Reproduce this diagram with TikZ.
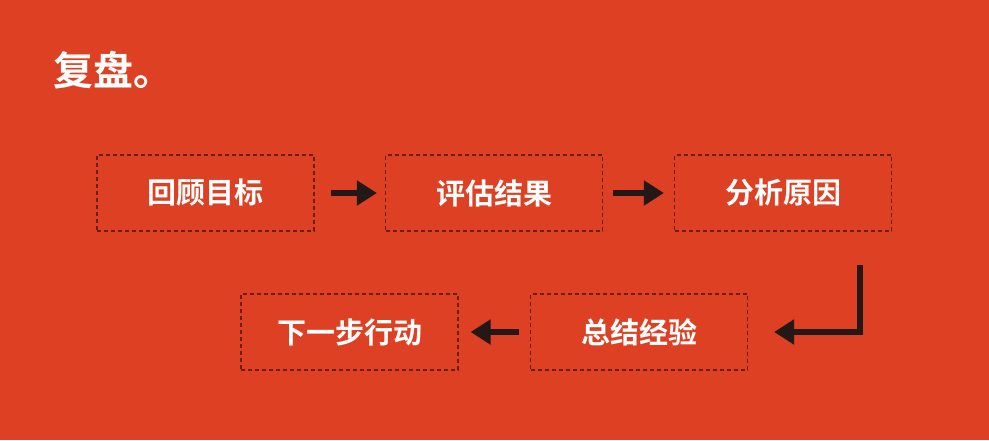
\documentclass[tikz,border=0pt]{standalone}
\usepackage{fontspec}
\newfontfamily\cjk{Noto Sans CJK SC Bold}
\usetikzlibrary{arrows.meta, positioning}
\definecolor{bgred}{HTML}{DD4023}
\definecolor{frame}{HTML}{6A1E12}
\definecolor{arrowc}{HTML}{231815}
\begin{document}
\begin{tikzpicture}[x=1pt, y=-1pt, >={Triangle[length=20pt,width=24pt]}]

  % --- FUNDO ---
  \fill[bgred] (0,0) rectangle (989,440);
  \useasboundingbox (0,0) rectangle (989,440);

  \tikzset{
    stepbox/.style={draw=frame, line width=1.2pt, dash pattern=on 4pt off 3pt,
      minimum width=217pt, minimum height=76pt, inner sep=0pt,
      text=white, font=\cjk\fontsize{29}{31}\selectfont},
    flow/.style={->, draw=arrowc, line width=6pt}
  }

  % --- TÍTULO ---
  \node[anchor=west, text=white, font=\cjk\fontsize{40}{44}\selectfont] (title) at (50,70) {复盘。};

  % --- ETAPAS ---
  \node[stepbox] (goal)   at (205.5,193) {回顾目标};
  \node[stepbox] (result) at (494,193)   {评估结果};
  \node[stepbox] (cause)  at (783,193)   {分析原因};
  \node[stepbox] (next)   at (349.5,332) {下一步行动};
  \node[stepbox] (sum)    at (639,332)   {总结经验};

  \coordinate (bend) at (860,265);

  % --- SETAS ---
  \draw[flow, shorten <=16pt, shorten >=8pt] (goal) -- (result);
  \draw[flow, shorten <=10pt, shorten >=10pt] (result) -- (cause);
  \draw[flow, shorten >=26pt] (bend) |- (sum.east);
  \draw[flow, shorten <=11pt, shorten >=12pt] (sum) -- (next);

\end{tikzpicture}
\end{document}
